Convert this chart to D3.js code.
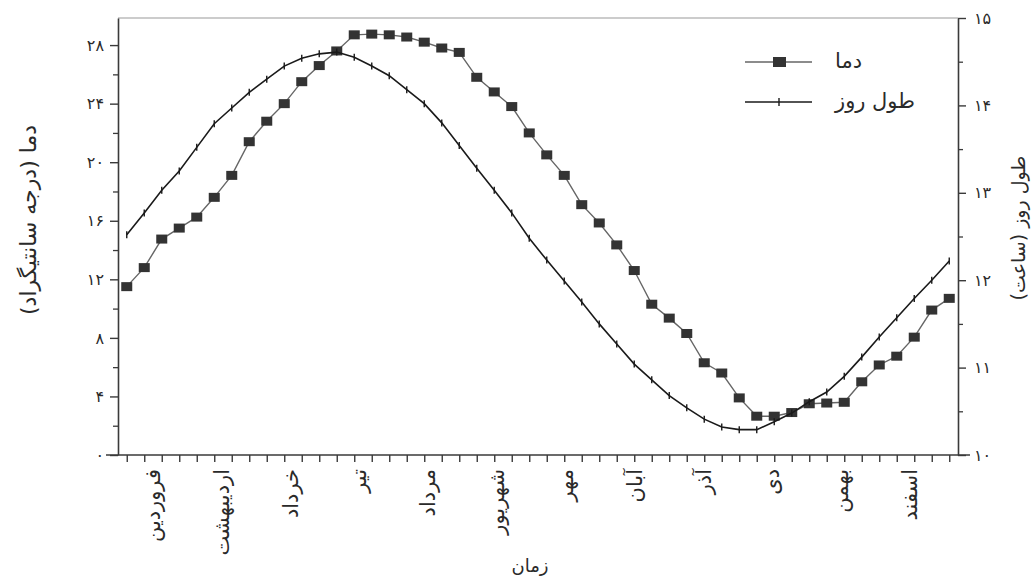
<!DOCTYPE html>
<html><head><meta charset="utf-8">
<script src="https://cdn.jsdelivr.net/npm/d3@7"></script>
<style>
body{margin:0;background:#fff;}
svg{display:block;}
text{font-family:"DejaVu Sans",sans-serif;fill:#2a2a2a;}
</style>
</head><body>
<svg id="chart" width="1033" height="582"></svg>
<script>
// ---- data ----
const months = ["فروردین","اردیبهشت","خرداد","تیر","مرداد","شهریور","مهر","آبان","آذر","دی","بهمن","اسفند"];
const temperature = [11.5,12.8,14.75,15.5,16.25,17.6,19.1,21.4,22.8,24.0,25.5,26.6,
  27.6,28.7,28.75,28.7,28.55,28.2,27.8,27.5,25.8,24.8,23.8,22.0,
  20.5,19.1,17.1,15.85,14.35,12.6,10.3,9.35,8.3,6.3,5.6,3.9,
  2.65,2.65,2.9,3.5,3.55,3.6,5.0,6.15,6.75,8.05,9.9,10.7];
const dayLength = [12.52,12.77,13.03,13.25,13.52,13.79,13.97,14.15,14.30,14.45,14.54,14.59,
  14.61,14.55,14.45,14.34,14.18,14.02,13.80,13.54,13.28,13.03,12.77,12.48,
  12.23,11.99,11.75,11.50,11.27,11.04,10.86,10.68,10.54,10.41,10.32,10.29,
  10.29,10.38,10.48,10.61,10.72,10.90,11.12,11.35,11.57,11.79,12.00,12.22];
const tempTicks = [0,4,8,12,16,20,24,28];
const tempMinor = [2,6,10,14,18,22,26];
const hourTicks = [10,11,12,13,14,15];
const hourMinor = [10.5,11.5,12.5,13.5,14.5];
const legendLabels = ["دما","طول روز"];
const titles = {left:"دما (درجه سانتیگراد)", right:"طول روز (ساعت)", bottom:"زمان"};

// ---- layout ----
const L = 118, R = 958, T = 18, B = 455;
const fa = s => String(s).replace(/\d/g, d => "۰۱۲۳۴۵۶۷۸۹"[d]);
const svg = d3.select("#chart");
const axisColor = "#3a3a3a";

const x = d3.scaleLinear().domain([0, temperature.length]).range([L, R]);
const yT = d3.scaleLinear().domain([0, 29.85]).range([B, T]);
const yH = d3.scaleLinear().domain([10, 15]).range([B, T]);
const xm = d3.scalePoint().domain(months).range([153, 910]);

// frame top
svg.append("line").attr("x1", L).attr("x2", R).attr("y1", T).attr("y2", T)
  .attr("stroke", "#9a9a9a").attr("stroke-width", 1.2);

function styleAxis(g){
  g.select(".domain").attr("stroke", axisColor).attr("stroke-width", 1.6);
  g.selectAll(".tick line").attr("stroke", axisColor).attr("stroke-width", 1.4);
}

// left axis
const gl = svg.append("g").attr("transform", `translate(${L},0)`)
  .call(d3.axisLeft(yT).tickValues(tempTicks).tickSize(8).tickSizeOuter(0).tickFormat(fa));
styleAxis(gl);
gl.selectAll(".tick text").attr("font-size", 16).attr("x", -14).attr("letter-spacing", 6);
svg.append("g").attr("transform", `translate(${L},0)`)
  .call(d3.axisLeft(yT).tickValues(tempMinor).tickSize(5).tickFormat(""))
  .call(g => { g.select(".domain").remove(); g.selectAll(".tick line").attr("stroke", axisColor).attr("stroke-width", 1.3); });

// right axis
const gr = svg.append("g").attr("transform", `translate(${R},0)`)
  .call(d3.axisRight(yH).tickValues(hourTicks).tickSize(8).tickSizeOuter(0).tickFormat(fa));
styleAxis(gr);
gr.selectAll(".tick text").attr("font-size", 16).attr("x", 16).attr("letter-spacing", 5);
svg.append("g").attr("transform", `translate(${R},0)`)
  .call(d3.axisRight(yH).tickValues(hourMinor).tickSize(5).tickFormat(""))
  .call(g => { g.select(".domain").remove(); g.selectAll(".tick line").attr("stroke", axisColor).attr("stroke-width", 1.3); });

// bottom axis
const gb = svg.append("g").attr("transform", `translate(0,${B})`)
  .call(d3.axisBottom(x).tickValues(d3.range(temperature.length).map(i => i + 0.5)).tickSize(7).tickSizeOuter(0).tickFormat(""));
styleAxis(gb);
gb.select(".domain").attr("d", `M${L - 12},0H${R + 12}`);

// month labels
svg.append("g").selectAll("text").data(months).join("text")
  .attr("transform", d => `translate(${xm(d) + 7},${B + 14}) rotate(-90)`)
  .attr("text-anchor", "end")
  .attr("font-size", 21)
  .text(d => d);

// temperature series
const lineT = d3.line().x((d, i) => x(i + 0.5)).y(d => yT(d));
svg.append("path").datum(temperature).attr("d", lineT)
  .attr("fill", "none").attr("stroke", "#666").attr("stroke-width", 1.4);
svg.append("g").selectAll("rect").data(temperature).join("rect")
  .attr("x", (d, i) => x(i + 0.5) - 5.5).attr("y", d => yT(d) - 4.5)
  .attr("width", 11).attr("height", 9).attr("fill", "#333");

// day length series
const lineH = d3.line().x((d, i) => x(i + 0.5)).y(d => yH(d));
svg.append("path").datum(dayLength).attr("d", lineH)
  .attr("fill", "none").attr("stroke", "#1a1a1a").attr("stroke-width", 1.6);
svg.append("g").selectAll("line").data(dayLength).join("line")
  .attr("x1", (d, i) => x(i + 0.5)).attr("x2", (d, i) => x(i + 0.5))
  .attr("y1", d => yH(d) - 3.5).attr("y2", d => yH(d) + 3.5)
  .attr("stroke", "#1a1a1a").attr("stroke-width", 1.4);

// legend
const lg = svg.append("g");
[0, 1].forEach(k => {
  const yy = 62 + k * 40;
  lg.append("line").attr("x1", 745).attr("x2", 812).attr("y1", yy).attr("y2", yy)
    .attr("stroke", k ? "#1a1a1a" : "#666").attr("stroke-width", 1.5);
  if (k === 0) lg.append("rect").attr("x", 773).attr("y", yy - 5).attr("width", 13).attr("height", 10).attr("fill", "#333");
  else lg.append("line").attr("x1", 779).attr("x2", 779).attr("y1", yy - 4).attr("y2", yy + 4).attr("stroke", "#1a1a1a").attr("stroke-width", 1.4);
  lg.append("text").attr("x", 835).attr("y", yy + 6).attr("font-size", 21)
    .attr("text-anchor", "start").attr("direction", "ltr").text(legendLabels[k]);
});

// axis titles
svg.append("text").attr("transform", `translate(36,220) rotate(-90)`)
  .attr("text-anchor", "middle").attr("font-size", 22).text(titles.left);
svg.append("text").attr("transform", `translate(1025,228) rotate(-90)`)
  .attr("text-anchor", "middle").attr("font-size", 19).text(titles.right);
svg.append("text").attr("x", 530).attr("y", 572)
  .attr("text-anchor", "middle").attr("font-size", 18).text(titles.bottom);
</script>
</body></html>
